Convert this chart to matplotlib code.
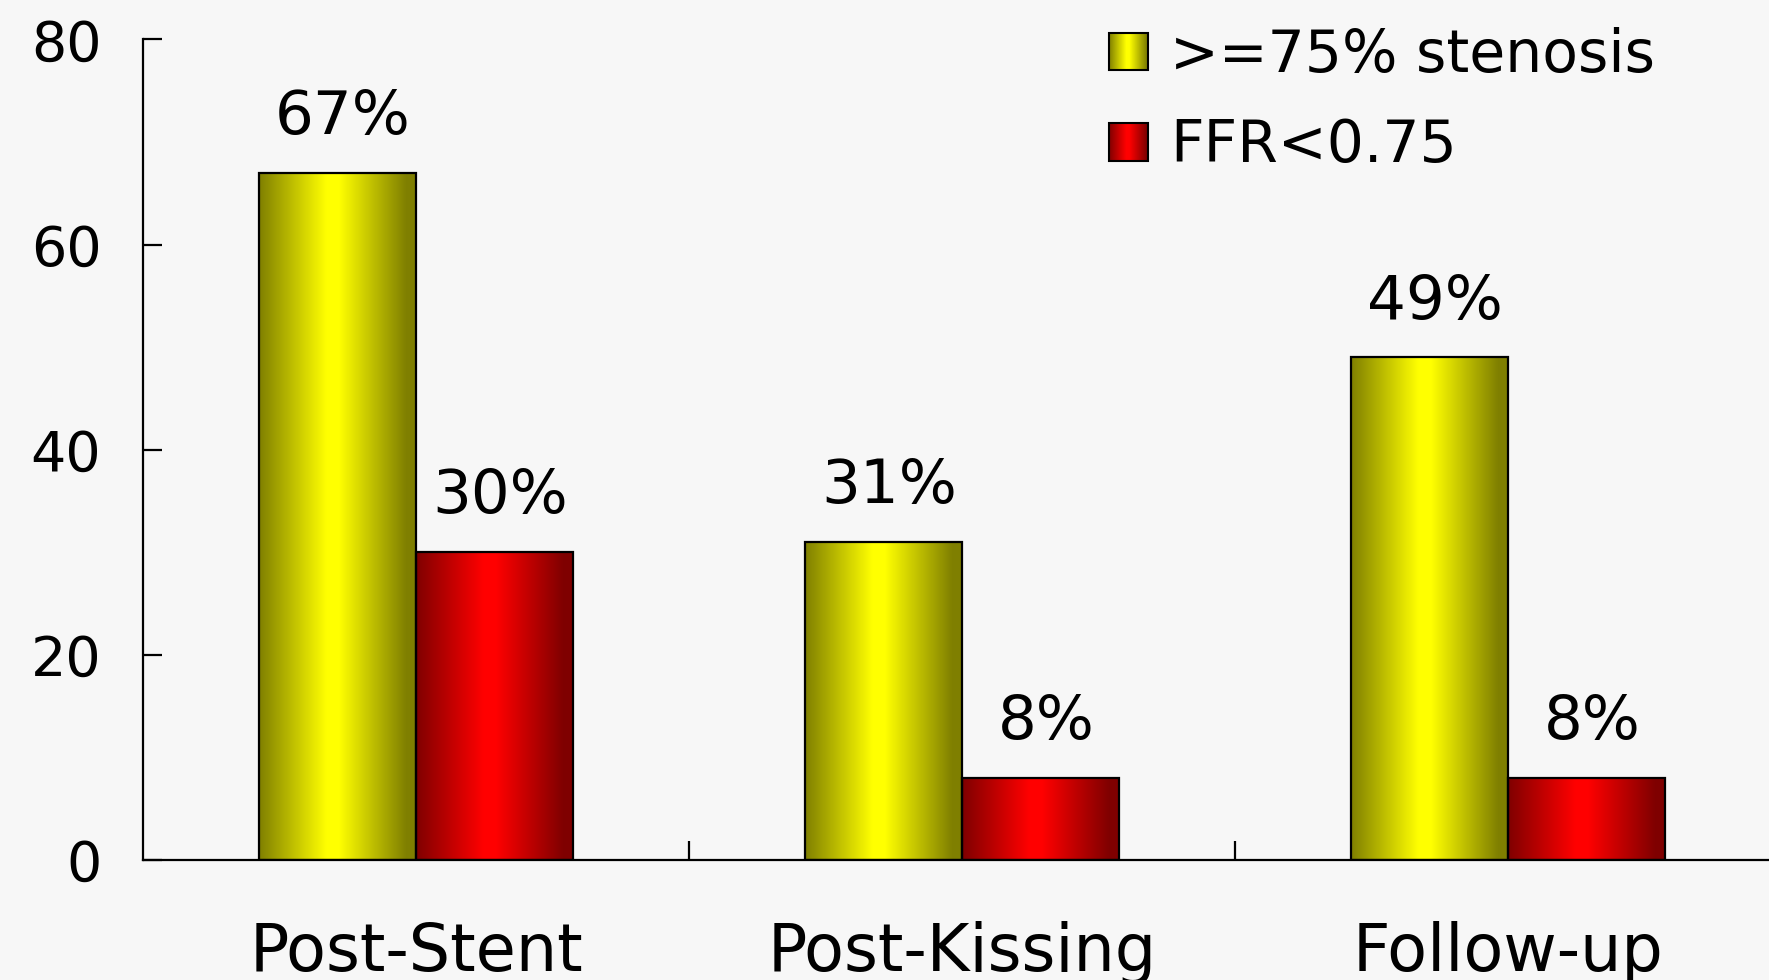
import matplotlib
matplotlib.use('Agg')
import matplotlib.pyplot as plt
import numpy as np
from matplotlib.legend_handler import HandlerBase
from matplotlib.image import BboxImage
from matplotlib.transforms import Bbox, TransformedBbox
from matplotlib.patches import Rectangle

categories = ['Post-Stent', 'Post-Kissing', 'Follow-up']
stenosis = [67, 31, 49]
ffr = [30, 8, 8]
series_names = ['>=75% stenosis', 'FFR<0.75']
y_ticks = [0, 20, 40, 60, 80]

YELLOW = (1.0, 1.0, 0.0)
RED = (1.0, 0.0, 0.0)
BG = '#f7f7f7'


def shade(base, n=256):
    # dark edges, bright band just left of centre
    t = np.linspace(0, 1, n)
    f = 1 - 0.5 * np.clip((np.abs(t - 0.47) - 0.04) / 0.43, 0, 1)
    return np.array(base)[None, None, :] * f[None, :, None]


class GradientHandler(HandlerBase):
    def __init__(self, base):
        super().__init__()
        self.base = base

    def create_artists(self, legend, orig_handle, xdescent, ydescent,
                       width, height, fontsize, trans):
        box = TransformedBbox(Bbox.from_bounds(-xdescent, -ydescent, width, height), trans)
        img = BboxImage(box, interpolation='bilinear')
        img.set_data(shade(self.base))
        edge = Rectangle((-xdescent, -ydescent), width, height, facecolor='none',
                         edgecolor='black', lw=1.5, transform=trans)
        return [img, edge]


plt.rcParams['font.family'] = 'DejaVu Sans'
fig = plt.figure(figsize=(17.69, 9.80), dpi=100, facecolor=BG)
ax = fig.add_axes([0.0808, 0.1224, 1.0068 - 0.0808, 0.8373], facecolor=BG)

x = np.arange(len(categories))
w = 0.287
groups = [(stenosis, -w / 2, YELLOW), (ffr, w / 2, RED)]
containers = []
for vals, off, base in groups:
    bars = ax.bar(x + off, vals, w, facecolor='none', edgecolor='black', lw=1.6, zorder=3)
    containers.append(bars)
    for rect, v in zip(bars, vals):
        x0 = rect.get_x()
        im = ax.imshow(shade(base), extent=(x0, x0 + rect.get_width(), 0, rect.get_height()),
                       aspect='auto', interpolation='bilinear', zorder=2)
        im.set_clip_path(rect)
        ax.annotate(f'{v}%', (x0 + rect.get_width() / 2, v), xytext=(4, 28),
                    textcoords='offset points', ha='center', va='baseline', fontsize=44)

ax.set_xlim(-0.5, 2.5)
ax.set_ylim(0, 80)

for s in ['top', 'right']:
    ax.spines[s].set_visible(False)
for s in ['left', 'bottom']:
    ax.spines[s].set_linewidth(1.6)

ax.set_yticks(y_ticks)
ax.tick_params(axis='y', direction='in', length=14, width=1.6, labelsize=40, pad=30)
ax.set_xticks([0.5, 1.5])
ax.set_xticklabels(['', ''])
ax.set_xticks(x, minor=True)
ax.set_xticklabels(categories, minor=True)
ax.tick_params(axis='x', which='major', direction='in', length=14, width=1.6)
ax.tick_params(axis='x', which='minor', length=0, labelsize=47, pad=44)

ax.legend(containers, series_names,
          handler_map={containers[0]: GradientHandler(YELLOW), containers[1]: GradientHandler(RED)},
          loc='upper left', bbox_to_anchor=(1109 / 1769, 1 - 27 / 980),
          bbox_transform=fig.transFigure, frameon=False, fontsize=42,
          borderpad=0, borderaxespad=0, labelspacing=0.57,
          handlelength=0.67, handleheight=0.62, handletextpad=0.38)

fig.savefig('out.png', dpi=100, facecolor=BG)
